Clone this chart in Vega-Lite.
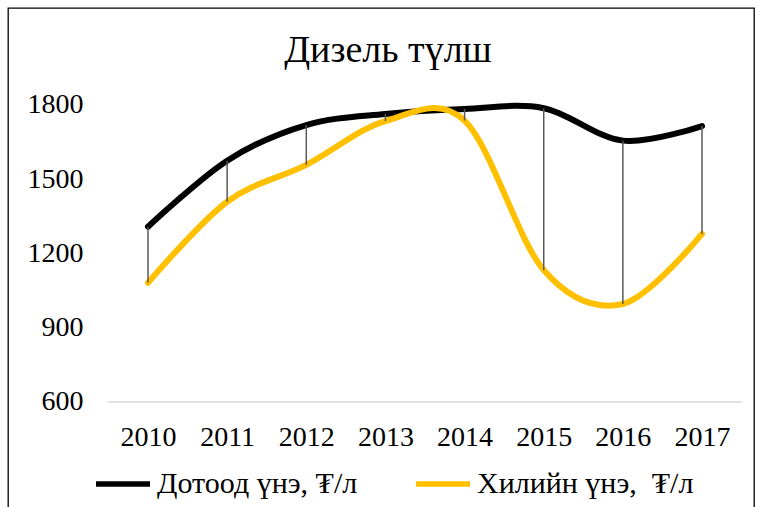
{
  "$schema": "https://vega.github.io/schema/vega-lite/v6.json",
  "width": 746,
  "height": 505,
  "autosize": "none",
  "padding": {"left": 8, "top": 8, "right": 5, "bottom": 0},
  "background": "white",
  "config": {"font": "Liberation Serif", "view": {"stroke": "#000000", "strokeWidth": 1.3}},
  "title": {"text": "Дизель түлш", "fontSize": 38, "fontWeight": "normal", "font": "Liberation Serif", "color": "#000000", "anchor": "middle", "offset": -62, "dy": 30, "dx": 7, "baseline": "alphabetic"},
  "datasets": {
    "prices": [
      {"year": 2010, "domestic": 1308, "border": 1082},
      {"year": 2011, "domestic": 1575, "border": 1409},
      {"year": 2012, "domestic": 1719, "border": 1558},
      {"year": 2013, "domestic": 1764, "border": 1735},
      {"year": 2014, "domestic": 1784, "border": 1737},
      {"year": 2015, "domestic": 1787, "border": 1133},
      {"year": 2016, "domestic": 1656, "border": 996},
      {"year": 2017, "domestic": 1715, "border": 1279}
    ],
    "base": [{"x": 2009.5, "x2": 2017.5, "y": 600}]
  },
  "layer": [
    {
      "data": {"name": "base"},
      "mark": {"type": "rule", "color": "#d9d9d9", "strokeWidth": 1.5},
      "encoding": {
        "x": {"field": "x", "type": "quantitative", "scale": {"domain": [2008.231, 2017.657], "nice": false, "zero": false},
          "axis": {"values": [2010, 2011, 2012, 2013, 2014, 2015, 2016, 2017], "format": "d", "title": null, "grid": false, "ticks": false, "tickSize": 0, "domain": false, "labelFontSize": 28, "labelFont": "Liberation Serif", "labelColor": "#000000", "labelPadding": 0, "offset": -76, "labelBaseline": "middle", "labelFlush": false, "labelOverlap": false}},
        "x2": {"field": "x2"},
        "y": {"field": "y", "type": "quantitative", "scale": {"domain": [151.5, 2191.9], "nice": false, "zero": false},
          "axis": {"values": [600, 900, 1200, 1500, 1800], "format": "d", "title": null, "grid": false, "ticks": false, "tickSize": 0, "domain": false, "labelFontSize": 28, "labelFont": "Liberation Serif", "labelColor": "#000000", "labelPadding": 2, "offset": -77, "labelOverlap": false}}
      }
    },
    {
      "data": {"name": "prices"},
      "transform": [{"fold": ["domestic", "border"], "as": ["series", "value"]}],
      "mark": {"type": "line", "interpolate": "cardinal", "strokeWidth": 6, "strokeCap": "round"},
      "encoding": {
        "x": {"field": "year", "type": "quantitative"},
        "y": {"field": "value", "type": "quantitative"},
        "color": {"field": "series", "type": "nominal", "sort": ["domestic", "border"],
          "scale": {"domain": ["domestic", "border"], "range": ["#000000", "#FFC000"]},
          "legend": {"orient": "none", "legendX": 85, "legendY": 446, "direction": "horizontal", "title": null, "symbolType": "stroke", "symbolSize": 2916, "symbolStrokeWidth": 5.5, "labelFontSize": 30, "labelFont": "Liberation Serif", "labelColor": "#000000", "labelOffset": 4, "columnPadding": 47, "labelLimit": 500,
            "labelExpr": "datum.label == 'domestic' ? 'Дотоод үнэ, ₮/л' : 'Хилийн үнэ,\u00a0 ₮/л'"}}
      }
    },
    {
      "data": {"name": "prices"},
      "mark": {"type": "rule", "color": "#595959", "strokeWidth": 1.5},
      "encoding": {
        "x": {"field": "year", "type": "quantitative"},
        "y": {"field": "domestic", "type": "quantitative"},
        "y2": {"field": "border"}
      }
    }
  ]
}
